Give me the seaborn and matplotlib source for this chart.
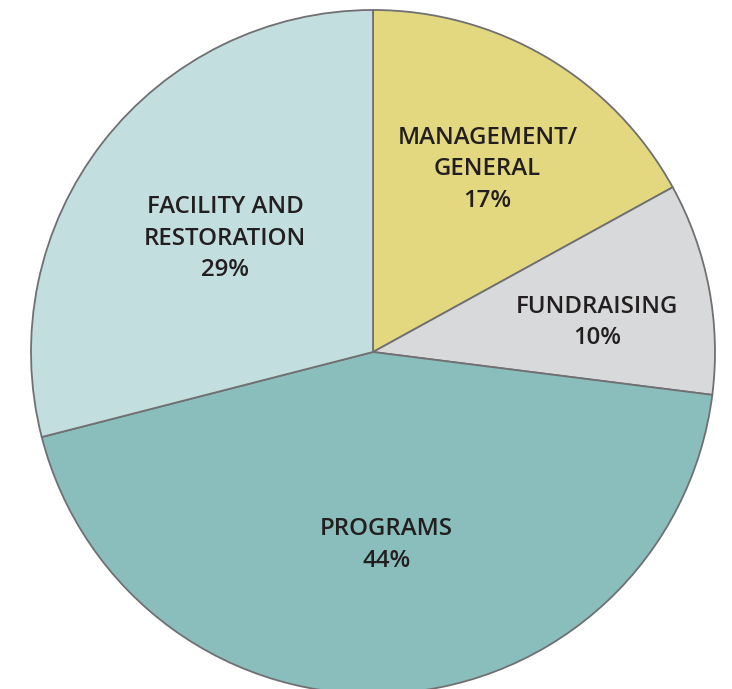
import numpy as np
import seaborn as sns
import matplotlib.pyplot as plt

labels = ['MANAGEMENT/\nGENERAL\n17%', 'FUNDRAISING\n10%', 'PROGRAMS\n44%', 'FACILITY AND\nRESTORATION\n29%']
shares = [17, 10, 44, 29]
colors = ['#E3D880', '#D8D9DA', '#8ABEBC', '#C3DEDE']

# label radius (fraction of pie radius) and small angle nudge in degrees
label_r = [0.63, 0.66, 0.565, 0.545]
label_nudge = [-1.5, -3.3, 0.4, 0.3]

sns.set_style('white')
plt.rcParams['font.family'] = ['Open Sans', 'DejaVu Sans']

fig = plt.figure(figsize=(7.32, 6.89), dpi=100)
ax = fig.add_axes([0, 0, 1, 1])

wedges, texts = ax.pie(
    shares, labels=labels, colors=colors, startangle=90, counterclock=False,
    wedgeprops=dict(edgecolor='#707072', linewidth=1.3),
)

for w, t, r, nudge in zip(wedges, texts, label_r, label_nudge):
    ang = np.deg2rad((w.theta1 + w.theta2) / 2 + nudge)
    t.set_position((r * np.cos(ang), r * np.sin(ang)))
    t.set_ha('center')
    t.set_va('center')
    t.set_fontsize(17.3)
    t.set_fontweight('semibold')
    t.set_color('#231F20')
    t.set_linespacing(1.42)

# pie centre at pixel (373, 352), radius 342 px
scale = 342.0
ax.set_xlim(-373 / scale, (732 - 373) / scale)
ax.set_ylim(-(689 - 352) / scale, 352 / scale)
ax.set_aspect('auto')
ax.axis('off')

fig.savefig('out.png', dpi=100)
